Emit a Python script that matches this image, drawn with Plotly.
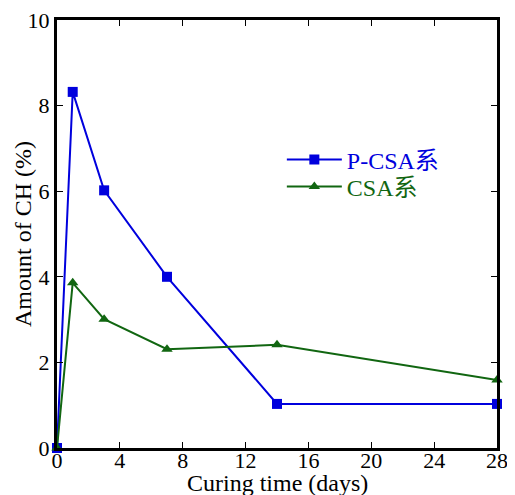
import plotly.graph_objects as go

days = [0, 1, 3, 7, 14, 28]
pcsa = [0, 8.32, 6.02, 4.0, 1.03, 1.03]
csa = [0, 3.86, 3.01, 2.31, 2.41, 1.59]
xticks = [0, 4, 8, 12, 16, 20, 24, 28]
yticks = [0, 2, 4, 6, 8, 10]

fnt = "Liberation Serif, Times New Roman, Noto Sans CJK SC, serif"

fig = go.Figure()
fig.add_trace(go.Scatter(
    x=days, y=pcsa, name="P-CSA系", mode="lines+markers",
    line=dict(color="#0000dd", width=2),
    marker=dict(symbol="square", size=10, color="#0000dd"),
    cliponaxis=False, legend="legend",
))
fig.add_trace(go.Scatter(
    x=days, y=csa, name="CSA系", mode="lines+markers",
    line=dict(color="#116611", width=2),
    marker=dict(symbol="triangle-up", size=10, color="#116611"),
    cliponaxis=False, legend="legend2",
))

leg = dict(xanchor="left", yanchor="middle", bgcolor="rgba(0,0,0,0)",
           font=dict(size=24), itemwidth=55)

# page body has an 8px margin, so the figure is a bit smaller than the window
fig.update_layout(
    width=507,
    height=487,
    margin=dict(l=49, r=18, t=12, b=47),
    plot_bgcolor="white",
    paper_bgcolor="white",
    font=dict(family=fnt, size=24, color="black"),
    showlegend=True,
    legend=dict(leg, x=0.511, y=0.673),
    legend2=dict(leg, x=0.511, y=0.610),
)
fig.update_xaxes(
    range=[0, 28], tickvals=xticks, showgrid=False, zeroline=False,
    showline=True, linecolor="black", linewidth=3, mirror="ticks",
    ticks="inside", ticklen=6, tickwidth=1, tickcolor="black",
    automargin=False, ticklabelstandoff=-9, tickfont_size=22,
    ticklabeloverflow="allow",
)
fig.update_yaxes(
    range=[0, 10], tickvals=yticks, showgrid=False, zeroline=False,
    showline=True, linecolor="black", linewidth=3, mirror="ticks",
    ticks="inside", ticklen=6, tickwidth=1, tickcolor="black",
    automargin=False, tickfont_size=22, ticklabeloverflow="allow",
)

fig.add_annotation(
    text="Curing time (days)", showarrow=False,
    xref="paper", yref="paper", x=0.5, y=0, yshift=-35,
    xanchor="center", yanchor="middle",
)
fig.add_annotation(
    text="Amount of CH (%)", showarrow=False, textangle=-90,
    xref="paper", yref="paper", x=0, y=0.5, xshift=-34,
    xanchor="center", yanchor="middle",
)

# color legend text like its line
for tr in fig.data:
    tr.name = f"<span style='color:{tr.line.color}'>{tr.name}</span>"

fig.write_html("out.html")
